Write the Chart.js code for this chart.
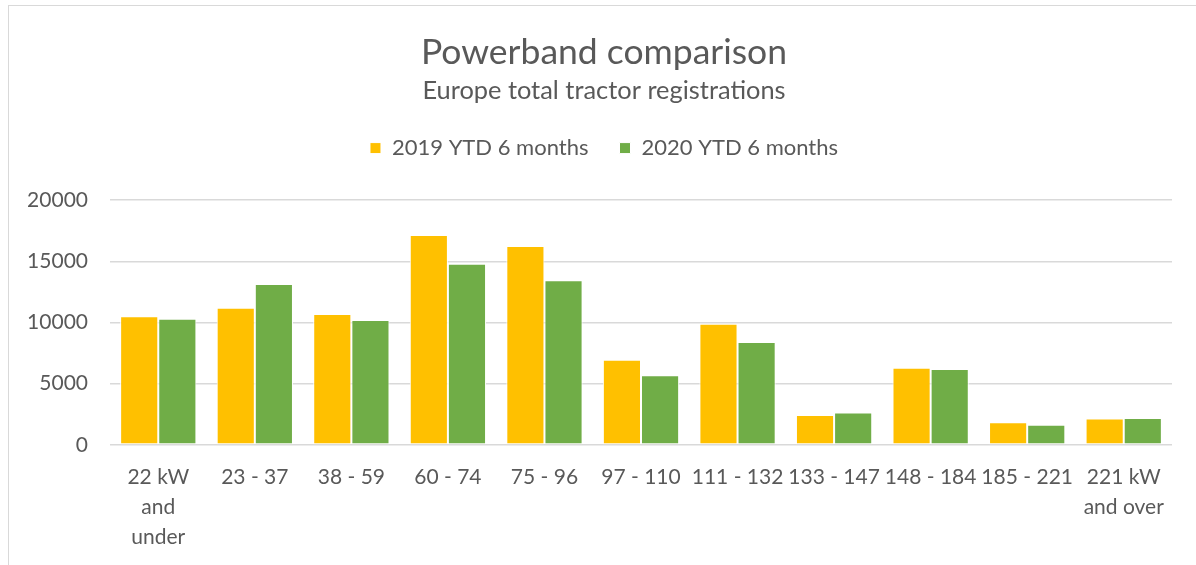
<!DOCTYPE html>
<html>
<head>
<meta charset="utf-8">
<script src="https://cdn.jsdelivr.net/npm/chart.js@4"></script>
<style>
  body { margin: 0; background: #fff; }
  #frame { position: absolute; left: 8px; top: 5px; width: 1300px; height: 700px; border: 1px solid #d9d9d9; }
  #wrap { position: absolute; left: 0; top: 0; width: 1196px; height: 565px; }
</style>
</head>
<body>
<div id="frame"></div>
<div id="wrap"><canvas id="powerband"></canvas></div>
<script>
// powerband categories (kW)
const categories = [
    ['22 kW', 'and', 'under'], '23 - 37', '38 - 59', '60 - 74', '75 - 96', '97 - 110',
    '111 - 132', '133 - 147', '148 - 184', '185 - 221', ['221 kW', 'and over']
];
const ytd2019 = [10500, 11200, 10700, 17150, 16250, 6950, 9900, 2450, 6300, 1850, 2150];
const ytd2020 = [10300, 13150, 10200, 14800, 13450, 5700, 8400, 2650, 6200, 1650, 2200];
const yTicks = [0, 5000, 10000, 15000, 20000];

const textColor = '#595959';
const fontFamily = 'Lato, sans-serif';

// extra room under the legend, like the Excel layout
const legendSpacer = {
    id: 'legendSpacer',
    afterInit(chart) {
        const fit = chart.legend.fit;
        chart.legend.fit = function () {
            fit.call(this);
            this.height += 31;
        };
    }
};

const ctx = document.getElementById('powerband');
new Chart(ctx, {
    type: 'bar',
    data: {
        labels: categories,
        datasets: [{
            label: '2019 YTD 6 months',
            data: ytd2019,
            backgroundColor: '#FFC000',
            borderColor: '#ffffff',
            borderWidth: 1,
            borderSkipped: false
        },
        {
            label: '2020 YTD 6 months',
            data: ytd2020,
            backgroundColor: '#70AD47',
            borderColor: '#ffffff',
            borderWidth: 1,
            borderSkipped: false
        }]
    },
    plugins: [legendSpacer],
    options: {
        responsive: true,
        maintainAspectRatio: false,
        animation: false,
        categoryPercentage: 0.79,
        barPercentage: 1,
        layout: {
            padding: { top: 20, right: 12, bottom: 4, left: 24 }
        },
        plugins: {
            title: {
                display: true,
                text: 'Powerband comparison',
                color: textColor,
                font: { family: fontFamily, size: 35.5, weight: 'normal' },
                padding: { top: 11, bottom: 1 }
            },
            subtitle: {
                display: true,
                text: 'Europe total tractor registrations',
                color: textColor,
                font: { family: fontFamily, size: 25.4, weight: 'normal' },
                padding: { top: 1, bottom: 0 }
            },
            legend: {
                position: 'top',
                labels: {
                    boxWidth: 11,
                    boxHeight: 11,
                    padding: 31,
                    color: textColor,
                    font: { family: fontFamily, size: 22 }
                }
            },
            tooltip: { enabled: false }
        },
        scales: {
            x: {
                grid: { display: false },
                border: { display: false },
                ticks: {
                    color: textColor,
                    maxRotation: 0,
                    autoSkip: false,
                    padding: 9,
                    font: { family: fontFamily, size: 21, lineHeight: 1.43 }
                }
            },
            y: {
                min: 0,
                max: 20000,
                afterBuildTicks: (axis) => { axis.ticks = yTicks.map(v => ({ value: v })); },
                afterFit: (axis) => { axis.width = 86; },
                grid: { color: '#d9d9d9', lineWidth: 1.5, drawTicks: false },
                border: { display: false },
                ticks: {
                    color: textColor,
                    padding: 22,
                    font: { family: fontFamily, size: 21 },
                    callback: (value) => String(value)
                }
            },
            // empty strip on the right so the titles centre like the original
            yRight: {
                type: 'linear',
                position: 'right',
                grid: { display: false },
                border: { display: false },
                ticks: { display: false },
                afterFit: (axis) => { axis.width = 12; }
            }
        }
    }
});
</script>
</body>
</html>
